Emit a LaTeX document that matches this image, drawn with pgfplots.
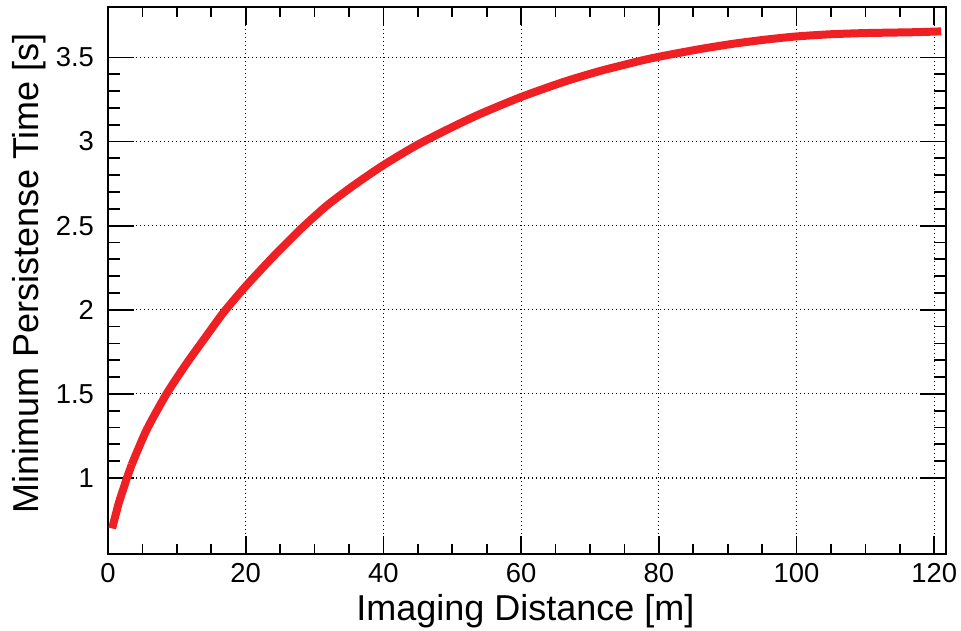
\documentclass[border=0pt]{standalone}
\usepackage{fontspec}
\setmainfont{Liberation Sans}
\usepackage{pgfplots}
\pgfplotsset{compat=1.18}
\definecolor{rootred}{RGB}{238,32,36}
\begin{document}
\begin{tikzpicture}
\begin{axis}[
  scale only axis,
  width=419pt, height=273.5pt,
  xmin=0, xmax=121.7, ymin=0.548, ymax=3.80,
  xtick={0,20,...,120}, minor x tick num=3,
  ytick={1,1.5,2,2.5,3,3.5}, minor y tick num=4,
  tick align=inside,
  xtick style={/pgfplots/major tick length=9pt, /pgfplots/minor tick length=5pt},
  ytick style={/pgfplots/major tick length=13pt, /pgfplots/minor tick length=6pt},
  every tick/.style={black, line width=0.9pt},
  axis line style={line width=1pt},
  grid=major,
  major grid style={black, line width=0.6pt, dash pattern=on 0.6pt off 1.4pt},
  /pgf/number format/assume math mode=true,
  tick label style={font=\fontsize{13.7}{16}\selectfont},
  xticklabel style={yshift=-1pt},
  yticklabel style={xshift=-3.5pt},
  xlabel={Imaging Distance [m]},
  ylabel={Minimum Persistense Time [s]},
  label style={font=\fontsize{18}{21}\selectfont},
  xlabel style={at={(rel axis cs:0.498,0)}, anchor=base, yshift=-33pt},
  ylabel style={at={([xshift=-34.5pt]rel axis cs:0,0.513)}, anchor=base},
]
\coordinate (bl) at (rel axis cs:0,0);
\coordinate (tr) at (rel axis cs:1,1);
\addplot[rootred, line width=4pt, line join=round] coordinates {
(0.6,0.70) (1.55,0.85) (2.75,1.00) (3.45,1.08)};
\addplot[rootred, line width=4pt, line join=round, smooth, tension=0.4] coordinates {
(3.45,1.08) (5.6,1.285) (8.5,1.50) (11.4,1.68) (14.3,1.845) (16.8,1.985)
(20,2.14) (24.1,2.32) (28,2.48) (31.8,2.62) (35.7,2.74) (40,2.86)
(44.9,2.98) (50.2,3.09) (54.1,3.165) (60,3.265) (66.2,3.355) (71.5,3.42)
(77.1,3.478) (80.1,3.505) (86,3.55) (90.9,3.582) (95.7,3.607) (100,3.625)
(105,3.638) (110,3.645) (117,3.65) (121,3.655)
};
\end{axis}
\pgfresetboundingbox
\path ([shift={(-54pt,-38pt)}]bl) rectangle ([shift={(7.5pt,3.5pt)}]tr);
\end{tikzpicture}
\end{document}
